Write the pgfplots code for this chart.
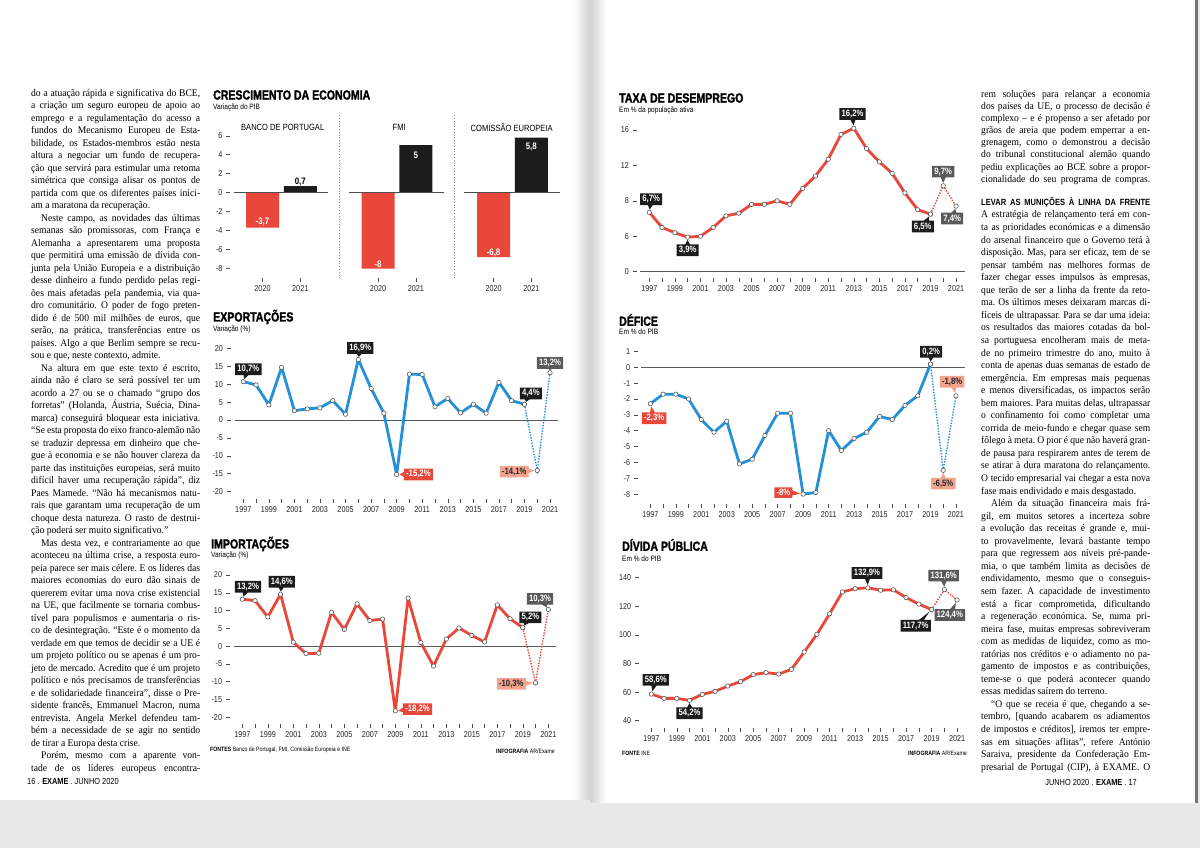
\documentclass[border=0pt]{standalone}
\usepackage{fontspec}
\setmainfont{Liberation Sans}[FakeStretch=0.84]
\newfontfamily\titlefont{Liberation Sans}[FakeStretch=0.8, FakeBold=1.6]
\newfontfamily\bodyfont{Liberation Serif}[FakeStretch=0.94]
\usepackage{pgfplots}
\pgfplotsset{compat=1.18}
\usetikzlibrary{shapes.callouts}

\definecolor{cred}{HTML}{E8473A}
\definecolor{cblue}{HTML}{2490D8}
\definecolor{cblk}{HTML}{1C1C1C}
\definecolor{cgry}{HTML}{5A5A5A}
\definecolor{csal}{HTML}{F2A48E}

\pgfplotsset{
  base/.style={scale only axis, clip=false,
    axis x line*=bottom, axis y line*=left, axis line style={draw=none},
    tick align=outside, major tick length=4pt, minor tick length=4pt,
    tick style={black!70, line width=0.5pt},
    tick label style={font=\fontsize{8.6}{9}\selectfont, text=black!85},
    /pgf/number format/assume math mode=true},
  years/.style={base, xmin=1996, xmax=2022,
    xtick={1997,1999,...,2021}, minor xtick={1998,2000,...,2020},
    x tick label style={/pgf/number format/1000 sep={}}},
  solidl/.style={line width=2.8pt, line join=round, mark=*, mark size=2.2pt,
    mark options={fill=white, draw=black!65, line width=0.6pt, solid}},
  dotl/.style={line width=1.4pt, dash pattern=on 1.4pt off 1.4pt, mark=*, mark size=2.2pt,
    mark options={fill=white, draw=black!65, line width=0.6pt, solid}},
}
\tikzset{
  lbl/.style={rectangle callout, callout pointer width=5pt, callout pointer shorten=2.8pt,
    inner xsep=2.2pt, inner ysep=1.9pt, font=\bfseries\fontsize{9.2}{10}\selectfont},
  blk/.style={lbl, fill=cblk, text=white},
  gry/.style={lbl, fill=cgry, text=white},
  rd/.style={lbl, fill=cred, text=white},
  sal/.style={lbl, fill=csal, text=black!85},
  ttl/.style={anchor=west, inner sep=0pt, font=\titlefont\bfseries\fontsize{13.2}{14}\selectfont},
  sub/.style={anchor=west, inner sep=0pt, font=\fontsize{7.8}{9}\selectfont},
}
% label box: style, point, box centre, text
\newcommand\lb[4]{\node[#1, callout absolute pointer={(axis cs:#2)}] at (axis cs:#3) {#4};}

% body text lines
\newcommand\J[1]{\hbox to\hsize{#1}}
\newcommand\E[1]{\hbox to\hsize{#1\hfil}}
\newcommand\I[1]{\hbox to\hsize{\hskip10pt #1}}

\begin{document}
\begin{tikzpicture}[x=1pt, y=1pt]
\useasboundingbox (0,0) rectangle (1200,848);
% pages
\fill[black!9] (0,0) rectangle (1200,848);
\fill[white] (0,48) rectangle (588,848);
\fill[white] (598,45) rectangle (1195,848);
\shade[left color=white, right color=black!18] (574,48) rectangle (590,848);
\shade[left color=black!18, right color=white] (590,45) rectangle (606,848);
\fill[black!55] (1195,45) rectangle (1198,848);

% ---------- left column text ----------
\node[anchor=base west, inner sep=0pt] at (31,751.5) {\vtop{\hsize=169pt
\bodyfont\fontsize{10.2}{12.5}\selectfont \baselineskip=12.5pt \lineskiplimit=-20pt \frenchspacing
\J{do a atuação rápida e significativa do BCE,}
\J{a criação um seguro europeu de apoio ao}
\J{emprego e a regulamentação do acesso a}
\J{fundos do Mecanismo Europeu de Esta-}
\J{bilidade, os Estados-membros estão nesta}
\J{altura a negociar um fundo de recupera-}
\J{ção que servirá para estimular uma retoma}
\J{simétrica que consiga alisar os pontos de}
\J{partida com que os diferentes países inici-}
\E{am a maratona da recuperação.}
\I{Neste campo, as novidades das últimas}
\J{semanas são promissoras, com França e}
\J{Alemanha a apresentarem uma proposta}
\J{que permitirá uma emissão de dívida con-}
\J{junta pela União Europeia e a distribuição}
\J{desse dinheiro a fundo perdido pelas regi-}
\J{ões mais afetadas pela pandemia, via qua-}
\J{dro comunitário. O poder de fogo preten-}
\J{dido é de 500 mil milhões de euros, que}
\J{serão, na prática, transferências entre os}
\J{países. Algo a que Berlim sempre se recu-}
\E{sou e que, neste contexto, admite.}
\I{Na altura em que este texto é escrito,}
\J{ainda não é claro se será possível ter um}
\J{acordo a 27 ou se o chamado “grupo dos}
\J{forretas” (Holanda, Áustria, Suécia, Dina-}
\J{marca) conseguirá bloquear esta iniciativa.}
\J{“Se esta proposta do eixo franco-alemão não}
\J{se traduzir depressa em dinheiro que che-}
\J{gue à economia e se não houver clareza da}
\J{parte das instituições europeias, será muito}
\J{difícil haver uma recuperação rápida”, diz}
\J{Paes Mamede. “Não há mecanismos natu-}
\J{rais que garantam uma recuperação de um}
\J{choque desta natureza. O rasto de destrui-}
\E{ção poderá ser muito significativo.”}
\I{Mas desta vez, e contrariamente ao que}
\J{aconteceu na última crise, a resposta euro-}
\J{peia parece ser mais célere. E os líderes das}
\J{maiores economias do euro dão sinais de}
\J{quererem evitar uma nova crise existencial}
\J{na UE, que facilmente se tornaria combus-}
\J{tível para populismos e aumentaria o ris-}
\J{co de desintegração. “Este é o momento da}
\J{verdade em que temos de decidir se a UE é}
\J{um projeto político ou se apenas é um pro-}
\J{jeto de mercado. Acredito que é um projeto}
\J{político e nós precisamos de transferências}
\J{e de solidariedade financeira”, disse o Pre-}
\J{sidente francês, Emmanuel Macron, numa}
\J{entrevista. Angela Merkel defendeu tam-}
\J{bém a necessidade de se agir no sentido}
\E{de tirar a Europa desta crise.}
\I{Porém, mesmo com a aparente von-}
\J{tade de os líderes europeus encontra-}
}};

% ---------- right column text ----------
\node[anchor=base west, inner sep=0pt] at (981,750.5) {\vtop{\hsize=169pt
\bodyfont\fontsize{10.2}{12.1}\selectfont \baselineskip=12.1pt \lineskiplimit=-20pt \frenchspacing
\J{rem soluções para relançar a economia}
\J{dos países da UE, o processo de decisão é}
\J{complexo – e é propenso a ser afetado por}
\J{grãos de areia que podem emperrar a en-}
\J{grenagem, como o demonstrou a decisão}
\J{do tribunal constitucional alemão quando}
\J{pediu explicações ao BCE sobre a propor-}
\J{cionalidade do seu programa de compras.}
}};
\node[anchor=base west, inner sep=0pt] at (981,642) {\hbox to 169pt{\bfseries\fontsize{9}{10}\selectfont LEVAR AS MUNIÇÕES À LINHA DA FRENTE}};
\node[anchor=base west, inner sep=0pt] at (981,630) {\vtop{\hsize=169pt
\bodyfont\fontsize{10.2}{12.55}\selectfont \baselineskip=12.55pt \lineskiplimit=-20pt \frenchspacing
\J{A estratégia de relançamento terá em con-}
\J{ta as prioridades económicas e a dimensão}
\J{do arsenal financeiro que o Governo terá à}
\J{disposição. Mas, para ser eficaz, tem de se}
\J{pensar também nas melhores formas de}
\J{fazer chegar esses impulsos às empresas,}
\J{que terão de ser a linha da frente da reto-}
\J{ma. Os últimos meses deixaram marcas di-}
\J{fíceis de ultrapassar. Para se dar uma ideia:}
\J{os resultados das maiores cotadas da bol-}
\J{sa portuguesa encolheram mais de meta-}
\J{de no primeiro trimestre do ano, muito à}
\J{conta de apenas duas semanas de estado de}
\J{emergência. Em empresas mais pequenas}
\J{e menos diversificadas, os impactos serão}
\J{bem maiores. Para muitas delas, ultrapassar}
\J{o confinamento foi como completar uma}
\J{corrida de meio-fundo e chegar quase sem}
\J{fôlego à meta. O pior é que não haverá gran-}
\J{de pausa para respirarem antes de terem de}
\J{se atirar à dura maratona do relançamento.}
\J{O tecido empresarial vai chegar a esta nova}
\E{fase mais endividado e mais desgastado.}
\I{Além da situação financeira mais frá-}
\J{gil, em muitos setores a incerteza sobre}
\J{a evolução das receitas é grande e, mui-}
\J{to provavelmente, levará bastante tempo}
\J{para que regressem aos níveis pré-pande-}
\J{mia, o que também limita as decisões de}
\J{endividamento, mesmo que o conseguis-}
\J{sem fazer. A capacidade de investimento}
\J{está a ficar comprometida, dificultando}
\J{a regeneração económica. Se, numa pri-}
\J{meira fase, muitas empresas sobreviveram}
\J{com as medidas de liquidez, como as mo-}
\J{ratórias nos créditos e o adiamento no pa-}
\J{gamento de impostos e as contribuições,}
\J{teme-se o que poderá acontecer quando}
\E{essas medidas saírem do terreno.}
\I{“O que se receia é que, chegando a se-}
\J{tembro, [quando acabarem os adiamentos}
\J{de impostos e créditos], iremos ter empre-}
\J{sas em situações aflitas”, refere António}
\J{Saraiva, presidente da Confederação Em-}
\J{presarial de Portugal (CIP), à EXAME. O}
}};

% page footers
\node[anchor=west, inner sep=0pt, font=\fontsize{8.8}{9}\selectfont] at (27,67) {16 . \textbf{EXAME} . JUNHO 2020};
\node[anchor=east, inner sep=0pt, font=\fontsize{8.8}{9}\selectfont] at (1137,66) {JUNHO 2020 . \textbf{EXAME} . 17};

% ---------- CRESCIMENTO DA ECONOMIA ----------
\node[ttl] at (213,753) {CRESCIMENTO DA ECONOMIA};
\node[sub] at (213,740) {Variação do PIB};
\begin{axis}[base, at={(230pt,570pt)}, anchor=south west, width=330pt, height=151.7pt,
  xmin=-0.861, xmax=7.88, ymin=-9, ymax=7, ytick={-8,-6,...,6},
  xtick={0,1,3.06,4.06,6.12,7.12}, xticklabels={2020,2021,2020,2021,2020,2021}]
\addplot[ybar, bar width=33pt, bar shift=0pt, fill=cred, draw=none] coordinates {(0,-3.7) (3.06,-8) (6.12,-6.8)};
\addplot[ybar, bar width=33pt, bar shift=0pt, fill=cblk, draw=none] coordinates {(1,0.7) (4.06,5) (7.12,5.8)};
\draw[black!70, line width=0.6pt] (-0.755,0) -- (1.735,0);
\draw[black!70, line width=0.6pt] (2.29,0) -- (4.81,0);
\draw[black!70, line width=0.6pt] (5.34,0) -- (7.88,0);
\draw[black!45, line width=0.8pt, dotted] (2.03,8.2) -- (2.03,-9);
\draw[black!45, line width=0.8pt, dotted] (5.07,8.2) -- (5.07,-9);
\node[font=\fontsize{9}{10}\selectfont] at (0.535,6.9) {BANCO DE PORTUGAL};
\node[font=\fontsize{9}{10}\selectfont] at (3.62,6.9) {FMI};
\node[font=\fontsize{9}{10}\selectfont] at (6.6,6.9) {COMISSÃO EUROPEIA};
\node[text=white, font=\bfseries\fontsize{9.4}{10}\selectfont] at (0,-3.06) {-3,7};
\node[text=black, font=\bfseries\fontsize{9.4}{10}\selectfont] at (1,1.16) {0,7};
\node[text=white, font=\bfseries\fontsize{9.4}{10}\selectfont] at (3.06,-7.52) {-8};
\node[text=white, font=\bfseries\fontsize{9.4}{10}\selectfont] at (4.06,3.98) {5};
\node[text=white, font=\bfseries\fontsize{9.4}{10}\selectfont] at (6.12,-6.36) {-6,8};
\node[text=white, font=\bfseries\fontsize{9.4}{10}\selectfont] at (7.12,4.85) {5,8};
\end{axis}

% ---------- EXPORTAÇÕES ----------
\node[ttl] at (213,531) {EXPORTAÇÕES};
\node[sub] at (213,518) {Variação (\%)};
\begin{axis}[years, at={(230.5pt,349.2pt)}, anchor=south west, width=332.3pt, height=157.6pt,
  ymin=-22, ymax=22, ytick={-20,-15,...,20}]
\draw[black!65, line width=0.7pt] (1996.35,0) -- (2021.63,0);
\addplot[dotl, cblue] coordinates {(2019,4.4) (2020,-14.1) (2021,13.2)};
\addplot[solidl, cblue] coordinates {
 (1997,10.7) (1998,9.8) (1999,4.2) (2000,14.7) (2001,2.6) (2002,3.1) (2003,3.4)
 (2004,5.4) (2005,1.6) (2006,16.9) (2007,8.8) (2008,1.9) (2009,-15.2) (2010,12.8)
 (2011,12.7) (2012,3.7) (2013,6.0) (2014,2.0) (2015,4.4) (2016,1.9) (2017,10.5)
 (2018,5.4) (2019,4.4)};
\lb{blk}{1997,10.7}{1997.4,14.15}{10,7\%}
\lb{blk}{2006,16.9}{2006.15,20.1}{16,9\%}
\lb{rd}{2009,-15.2}{2010.7,-15.2}{-15,2\%}
\lb{blk}{2019,4.4}{2019.5,7.4}{4,4\%}
\lb{gry}{2021,13.2}{2021,15.9}{13,2\%}
\lb{sal}{2020,-14.1}{2018.2,-14.4}{-14,1\%}
\end{axis}

% ---------- IMPORTAÇÕES ----------
\node[ttl] at (211,304) {IMPORTAÇÕES};
\node[sub] at (211,292) {Variação (\%)};
\begin{axis}[years, at={(229.55pt,123.6pt)}, anchor=south west, width=331.5pt, height=156.5pt,
  ymin=-22, ymax=22, ytick={-20,-15,...,20}]
\draw[black!65, line width=0.7pt] (1996.35,0) -- (2021.6,0);
\addplot[dotl, cred] coordinates {(2019,5.2) (2020,-10.3) (2021,10.3)};
\addplot[solidl, cred] coordinates {
 (1997,13.2) (1998,12.8) (1999,8.2) (2000,14.6) (2001,1.1) (2002,-2.1) (2003,-2.0)
 (2004,9.5) (2005,4.7) (2006,11.9) (2007,7.2) (2008,7.6) (2009,-18.2) (2010,13.5)
 (2011,1.0) (2012,-5.6) (2013,2.0) (2014,5.1) (2015,3.0) (2016,1.2) (2017,11.6)
 (2018,7.7) (2019,5.2)};
\lb{blk}{1997,13.2}{1997.45,16.7}{13,2\%}
\lb{blk}{2000,14.6}{2000.1,18.1}{14,6\%}
\lb{rd}{2009,-18.2}{2010.75,-17.7}{-18,2\%}
\lb{blk}{2019,5.2}{2019.6,8.1}{5,2\%}
\lb{gry}{2021,10.3}{2020.35,13.3}{10,3\%}
\lb{sal}{2020,-10.3}{2018.1,-10.6}{-10,3\%}
\end{axis}
\node[anchor=west, inner sep=0pt, font=\fontsize{6.2}{7}\selectfont] at (210,98) {\textbf{FONTES} Banco de Portugal, FMI, Comissão Europeia e INE};
\node[anchor=east, inner sep=0pt, font=\fontsize{6.2}{7}\selectfont] at (555,97) {\textbf{INFOGRAFIA} AR/Exame};

% ---------- TAXA DE DESEMPREGO ----------
\node[ttl] at (619,750) {TAXA DE DESEMPREGO};
\node[sub] at (619,737) {Em \% da população ativa};
\begin{axis}[years, at={(636.5pt,570.1pt)}, anchor=south west, width=332.3pt, height=161.2pt,
  ymin=-0.7, ymax=17.5, ytick={0,4,8,12,16}, yticklabels={0,6,8,12,16}]
\draw[black!65, line width=0.7pt] (1996.27,0) -- (2021.7,0);
\addplot[dotl, cred] coordinates {(2019,6.5) (2020,9.7) (2021,7.4)};
\addplot[solidl, cred] coordinates {
 (1997,6.7) (1998,5.0) (1999,4.4) (2000,3.9) (2001,4.0) (2002,5.0) (2003,6.3)
 (2004,6.6) (2005,7.6) (2006,7.6) (2007,8.0) (2008,7.6) (2009,9.4) (2010,10.8)
 (2011,12.7) (2012,15.5) (2013,16.2) (2014,13.9) (2015,12.4) (2016,11.1) (2017,8.9)
 (2018,7.0) (2019,6.5)};
\lb{blk}{1997,6.7}{1997.15,8.18}{6,7\%}
\lb{blk}{2000,3.9}{2000,2.42}{3,9\%}
\lb{blk}{2013,16.2}{2012.9,17.8}{16,2\%}
\lb{gry}{2020,9.7}{2020,11.3}{9,7\%}
\lb{blk}{2019,6.5}{2018.4,5.1}{6,5\%}
\lb{gry}{2021,7.4}{2020.7,6.0}{7,4\%}
\end{axis}

% ---------- DÉFICE ----------
\node[ttl] at (619,528) {DÉFICE};
\node[sub] at (619,516) {Em \% do PIB};
\begin{axis}[years, at={(637.6pt,344.4pt)}, anchor=south west, width=331.1pt, height=161.7pt,
  ymin=-8.6, ymax=1.6, ytick={-8,-7,...,1}]
\draw[black!65, line width=0.7pt] (1996.27,0) -- (2021.7,0);
\addplot[dotl, cblue] coordinates {(2019,0.2) (2020,-6.5) (2021,-1.8)};
\addplot[solidl, cblue] coordinates {
 (1997,-2.3) (1998,-1.7) (1999,-1.7) (2000,-2.0) (2001,-3.3) (2002,-4.1) (2003,-3.4)
 (2004,-6.1) (2005,-5.8) (2006,-4.3) (2007,-2.9) (2008,-2.9) (2009,-8.0) (2010,-7.9)
 (2011,-4.0) (2012,-5.25) (2013,-4.5) (2014,-4.1) (2015,-3.1) (2016,-3.3) (2017,-2.4)
 (2018,-1.8) (2019,0.2)};
\lb{rd}{1997,-2.3}{1997.3,-3.22}{-2,3\%}
\lb{rd}{2009,-8}{2007.45,-7.91}{-8\%}
\lb{blk}{2019,0.2}{2019.05,0.98}{0,2\%}
\lb{sal}{2021,-1.8}{2020.7,-0.91}{-1,8\%}
\lb{sal}{2020,-6.5}{2020,-7.34}{-6,5\%}
\end{axis}

% ---------- DÍVIDA PÚBLICA ----------
\node[ttl] at (622,303) {DÍVIDA PÚBLICA};
\node[sub] at (622,289) {Em \% do PIB};
\begin{axis}[years, at={(638.6pt,120.15pt)}, anchor=south west, width=331.2pt, height=164.5pt,
  ymin=35, ymax=150, ytick={40,60,...,140}]
\addplot[dotl, cred] coordinates {(2019,117.7) (2020,131.6) (2021,124.4)};
\addplot[solidl, cred] coordinates {
 (1997,58.6) (1998,55.6) (1999,55.6) (2000,54.2) (2001,58.4) (2002,60.5) (2003,64.2)
 (2004,67.3) (2005,72.2) (2006,73.6) (2007,72.6) (2008,75.9) (2009,88.0) (2010,100.4)
 (2011,114.8) (2012,130.0) (2013,132.3) (2014,132.9) (2015,131.2) (2016,131.5)
 (2017,126.1) (2018,121.5) (2019,117.7)};
\lb{blk}{1997,58.6}{1997.35,68.5}{58,6\%}
\lb{blk}{2000,54.2}{2000,45.2}{54,2\%}
\lb{blk}{2014,132.9}{2013.93,143.3}{132,9\%}
\lb{gry}{2020,131.6}{2019.95,141.4}{131,6\%}
\lb{blk}{2019,117.7}{2017.75,106.4}{117,7\%}
\lb{gry}{2021,124.4}{2020.43,113.9}{124,4\%}
\end{axis}
\node[anchor=west, inner sep=0pt, font=\fontsize{6.2}{7}\selectfont] at (622,95) {\textbf{FONTE} INE};
\node[anchor=east, inner sep=0pt, font=\fontsize{6.2}{7}\selectfont] at (967,95) {\textbf{INFOGRAFIA} AR/Exame};
\end{tikzpicture}
\end{document}
